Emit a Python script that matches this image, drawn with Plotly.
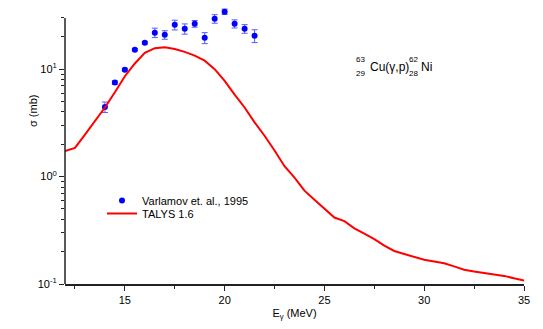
import plotly.graph_objects as go

# Experimental data (Varlamov et al., 1995)
exp_E = [14.0, 14.5, 15.0, 15.5, 16.0, 16.5, 17.0, 17.5, 18.0, 18.5, 19.0, 19.5, 20.0, 20.5, 21.0, 21.5]
exp_sigma = [4.45, 7.5, 9.9, 15.2, 17.6, 21.9, 20.9, 25.9, 23.8, 26.5, 19.6, 29.5, 34.3, 26.5, 23.8, 20.5]
exp_err = [0.5, 0.3, 0.3, 0.4, 0.5, 2.2, 1.9, 2.7, 2.6, 1.9, 2.3, 2.7, 2.0, 2.3, 2.2, 2.8]

# TALYS 1.6 calculation
talys_E = [12.0, 12.5, 13.0, 13.5, 14.0, 14.5, 15.0, 15.5, 16.0, 16.5, 17.0, 17.5, 18.0, 18.5,
           19.0, 19.5, 20.0, 20.5, 21.0, 21.5, 22.0, 22.5, 23.0, 23.5, 24.0, 24.5, 25.0, 25.5,
           26.0, 26.5, 27.0, 27.5, 28.0, 28.5, 29.0, 29.5, 30.0, 30.5, 31.0, 31.5, 32.0, 32.5,
           33.0, 33.5, 34.0, 34.5, 35.0]
talys_sigma = [1.73, 1.85, 2.46, 3.3, 4.4, 6.1, 8.6, 11.3, 14.2, 15.7, 16.0, 15.4, 14.5, 13.4,
               12.0, 10.0, 7.8, 5.8, 4.4, 3.2, 2.4, 1.75, 1.25, 0.98, 0.74, 0.61, 0.50, 0.416,
               0.385, 0.33, 0.295, 0.262, 0.228, 0.203, 0.19, 0.18, 0.168, 0.162, 0.156, 0.146, 0.136, 0.131,
               0.127, 0.123, 0.119, 0.113, 0.108]

x_ticks = [15, 20, 25, 30, 35]
y_tickvals = [0.1, 1, 10]
y_ticktext = ["10<sup>-1</sup>", "10<sup>0</sup>", "10<sup>1</sup>"]
y_axis_top = 30

FONT = "Liberation Sans, Arial, sans-serif"
AXC = "#222222"

# pixel geometry of the plot box
L, R, T, B = 65, 19, 8, 45
W, H = 543, 329
PH = H - T - B
DEC = 107.4  # px per decade
ytop = -1 + PH / DEC

fig = go.Figure()
fig.add_trace(go.Scatter(
    x=exp_E, y=exp_sigma, mode="markers", name="Varlamov et. al., 1995",
    marker=dict(color="#0000ff", size=6, symbol="circle"),
    error_y=dict(type="data", array=exp_err, color="#5a5aff", thickness=1, width=3),
    legend="legend",
))
fig.add_trace(go.Scatter(
    x=talys_E, y=talys_sigma, mode="lines", name="TALYS 1.6",
    line=dict(color="#ff0000", width=2),
    legend="legend2",
))

def py(ypix):
    return (H - B - ypix) / PH

def pxx(xpix):
    return (xpix - L) / (W - L - R)

leg_common = dict(xanchor="left", yanchor="top", bgcolor="rgba(0,0,0,0)",
                  font=dict(size=11), itemwidth=30, borderwidth=0)

fig.update_layout(
    width=W, height=H,
    margin=dict(l=L, r=R, t=T, b=B),
    paper_bgcolor="white", plot_bgcolor="white",
    font=dict(family=FONT, size=11, color="black"),
    showlegend=True,
    legend=dict(x=pxx(102), y=py(186), **leg_common),
    legend2=dict(x=pxx(102), y=py(199), **leg_common),
    xaxis=dict(
        range=[12, 35], tickvals=x_ticks, ticks="outside", ticklen=5,
        showline=True, linecolor=AXC, linewidth=1.5, mirror=False,
        showgrid=False, zeroline=False,
        minor=dict(dtick=2.5, tick0=12.5, ticks="outside", ticklen=3, tickcolor=AXC),
        tickcolor=AXC,
        title=dict(text="E<sub>γ</sub> (MeV)", font=dict(size=11), standoff=4),
    ),
    yaxis=dict(
        type="log", range=[-1, ytop], tickvals=y_tickvals, ticktext=y_ticktext,
        ticks="outside", ticklen=5, tickcolor=AXC,
        showline=False, showgrid=False, zeroline=False,
        minor=dict(ticks="outside", ticklen=3, tickcolor=AXC,
                   tickvals=[0.2, 0.3, 0.4, 0.5, 0.6, 0.7, 0.8, 0.9,
                             2, 3, 4, 5, 6, 7, 8, 9, 20, 30]),
    ),
)

# y axis line drawn only up to the axis end (30 mb), data may overflow above it
fig.add_shape(type="line", xref="paper", yref="y", x0=0, x1=0, y0=0.1, y1=y_axis_top,
              line=dict(color=AXC, width=1.5), layer="above")

# y axis title
fig.add_annotation(x=pxx(33), y=py(111), xref="paper", yref="paper", text="σ (mb)",
                   showarrow=False, textangle=-90, xanchor="center", yanchor="middle",
                   font=dict(size=11))

# Reaction label with stacked pre-scripts
fig.add_annotation(x=pxx(368), y=py(67), xref="paper", yref="paper", text="Cu(γ,p)",
                   showarrow=False, xanchor="left", yanchor="middle", font=dict(size=12))
for txt, xp, yp in [("63", 367, 59), ("29", 367, 74), ("62", 420, 59), ("28", 420, 74)]:
    fig.add_annotation(x=pxx(xp), y=py(yp), xref="paper", yref="paper", text=txt,
                       showarrow=False, xanchor="right", yanchor="middle", font=dict(size=8))
fig.add_annotation(x=pxx(419), y=py(67), xref="paper", yref="paper", text="Ni",
                   showarrow=False, xanchor="left", yanchor="middle", font=dict(size=12))

fig.write_html("out.html")
